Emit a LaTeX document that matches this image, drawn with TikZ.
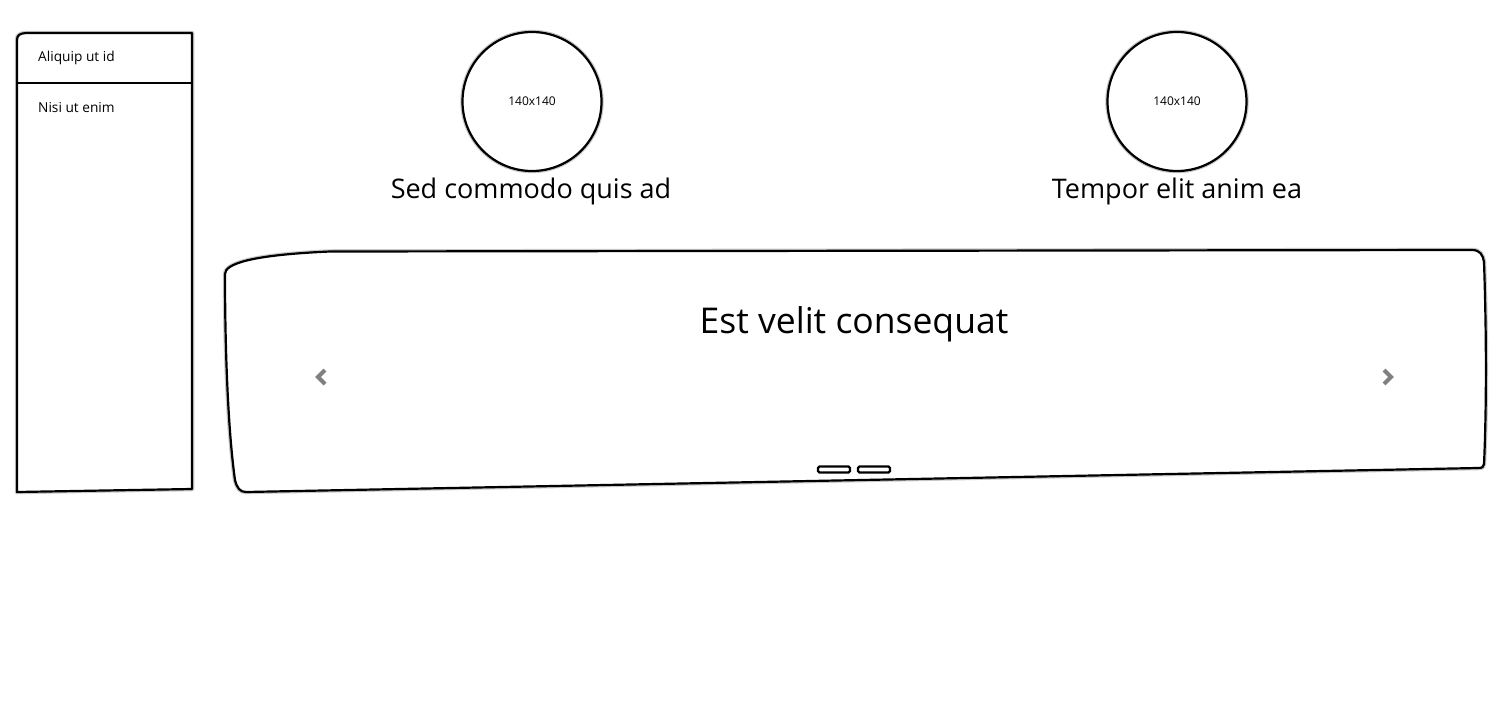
\documentclass[tikz,border=0pt]{standalone}
\usepackage{fontspec}
\setmainfont{Open Sans}
\begin{document}
\begin{tikzpicture}[x=1pt,y=-1pt,
  outline/.style={draw=black,line width=2.2pt,line join=round,fill=white},
  halo/.style={draw=black!22,line width=4.5pt,line join=round},
  chev/.style={draw=black!50,line width=4.2pt,line join=miter},
  dotbox/.style={draw=black,line width=2.4pt,fill=white,rounded corners=1.5pt,minimum width=32pt,minimum height=6pt,inner sep=0pt},
  big/.style={font=\fontsize{27}{31}\selectfont,inner sep=0pt},
  huge/.style={font=\fontsize{35.5}{40}\selectfont,inner sep=0pt},
  small/.style={font=\fontsize{13.7}{16}\selectfont,inner sep=0pt,anchor=west},
  tiny/.style={font=\fontsize{12}{14}\selectfont,inner sep=0pt}]
\useasboundingbox (0,0) rectangle (1500,720);
% left panel
\def\panelpath{(17,40) .. controls (17,35) and (20,33.5) .. (26,33) -- (192,33) -- (192,489) -- (17,492) -- cycle}
\draw[halo] \panelpath;
\draw[outline] \panelpath;
\draw[line width=2.2pt] (17,83) -- (192,83);
\node[small] (p1) at (38,58) {Aliquip ut id};
\node[small] (p2) at (38,108) {Nisi ut enim};
% circles
\draw[halo] (532,101.5) circle (69.5);
\draw[outline] (532,101.5) circle (69.5);
\node[tiny] (c1) at (532,101.5) {140x140};
\draw[halo] (1177,101.5) circle (69.5);
\draw[outline] (1177,101.5) circle (69.5);
\node[tiny] (c2) at (1177,101.5) {140x140};
\node[big] (l1) at (531,191) {Sed commodo quis ad};
\node[big] (l2) at (1177,191) {Tempor elit anim ea};
% carousel
\def\carpath{(225,274) .. controls (225,264) and (250,255) .. (330,251.5) -- (1472,250) .. controls (1480,250) and (1483,255) .. (1484,262) .. controls (1487,350) and (1486,420) .. (1484,464) .. controls (1484,467) and (1482,468) .. (1478,468) -- (246,492) .. controls (240,492) and (237,488) .. (235,480) .. controls (228,430) and (225,350) .. (225,274) -- cycle}
\draw[halo] \carpath;
\draw[outline] \carpath;
\node[huge] (title) at (854,324) {Est velit consequat};
\draw[chev] (325,370) -- (318,377) -- (325,384);
\draw[chev] (1384,370) -- (1391,377) -- (1384,384);
\node[dotbox] (d1) at (834,469.5) {};
\node[dotbox] (d2) at (874,469.5) {};
\end{tikzpicture}
\end{document}
